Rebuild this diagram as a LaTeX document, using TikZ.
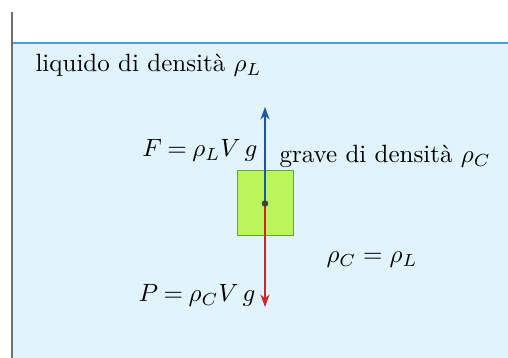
\documentclass[tikz,border=0pt]{standalone}
\usetikzlibrary{arrows.meta}
\definecolor{liq}{HTML}{E1F3FD}
\definecolor{surf}{HTML}{4A9FD8}
\definecolor{wall}{HTML}{707070}
\definecolor{boxfill}{HTML}{BAF55C}
\definecolor{boxline}{HTML}{5FA83A}
\definecolor{fblue}{HTML}{1D55A8}
\definecolor{pred}{HTML}{D42226}
\tikzset{
  lbl/.style={inner sep=0pt, font=\fontsize{10}{12}\selectfont},
  force/.style={line width=1.1pt, -{Stealth[length=5pt,width=3.6pt]}},
}
\begin{document}
\begin{tikzpicture}[x=0.4pt,y=-0.4pt]
\useasboundingbox (0,0) rectangle (508,358);
\fill[white] (0,0) rectangle (508,358);
\fill[liq] (12,43) rectangle (508,358);
\draw[surf, line width=0.6pt] (12,43) -- (508,43);
\draw[wall, line width=0.8pt] (12,12) -- (12,358);
\node[lbl, anchor=base west] (liq) at (35,72) {liquido di densità $\rho_L$};
\node[draw=boxline, fill=boxfill, line width=0.4pt, minimum width=56*0.4pt, minimum height=65*0.4pt, inner sep=0pt] (body) at (265,203.5) {};
\coordinate (c) at (265,203.5);
\coordinate (ftip) at (265,107);
\coordinate (ptip) at (265,307);
\draw[force, fblue] (c) -- (ftip);
\draw[force, pred] (c) -- (ptip);
\fill[black!75] (c) circle (1.3pt);
\node[lbl, anchor=base east] (F) at (258,157) {$F\mathbin{=}\rho_L V\,g$};
\node[lbl, anchor=base west] (grave) at (279,163) {grave di densità $\rho_C$};
\node[lbl, anchor=base west] (eq) at (326,263) {$\rho_C=\rho_L$};
\node[lbl, anchor=base east] (P) at (256,302) {$P\mathbin{=}\rho_C V\,g$};
\end{tikzpicture}
\end{document}
